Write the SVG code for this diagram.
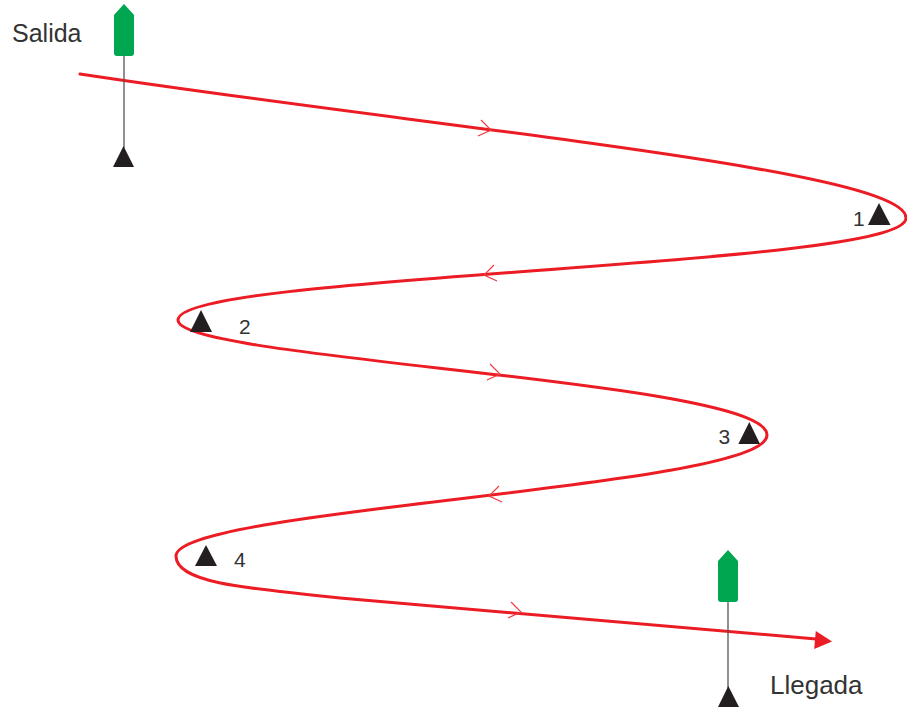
<svg xmlns="http://www.w3.org/2000/svg" width="907" height="710" viewBox="0 0 907 710">
<style>
.route{fill:none;stroke:#ec1c24;stroke-width:3;stroke-linecap:round}
.chev{fill:none;stroke:#ef3b40;stroke-width:1.2}
.mark{fill:#231f20}
.pole{stroke:#555;stroke-width:1.3}
.buoy{fill:#00a650}
.lbl{font-family:"Liberation Sans",Arial,sans-serif;fill:#333}
</style>
<defs>
<path id="chevR" class="chev" d="M-10,-10 L0,0 L-13,6"/>
</defs>
<rect width="907" height="710" fill="#fff"/>
<g id="route">
<path class="route" d="M80,74 C450,130 906,170 906,218 C906,268 178,273 178,320 C178,360 767,380 767,435 C767,488 176,508 176,556 C176,582 240,588 340,598 L816,639"/>
<polygon fill="#ec1c24" points="832,641.5 815.8,631 814.2,649"/>
<use href="#chevR" transform="translate(491,130)"/>
<use href="#chevR" transform="translate(484,275) scale(-1,1)"/>
<use href="#chevR" transform="translate(500,374)"/>
<use href="#chevR" transform="translate(489,496) scale(-1,1)"/>
<use href="#chevR" transform="translate(521,612)"/>
</g>
<g id="salida">
<line class="pole" x1="124" y1="56" x2="124" y2="148"/>
<path class="buoy" d="M124,4 L134,15 L134,53 Q134,56 131,56 L117,56 Q114,56 114,53 L114,15 Z"/>
<polygon class="mark" points="123.5,146 113,167 134,167"/>
<text class="lbl" x="12" y="42" font-size="25">Salida</text>
</g>
<g id="llegada">
<line class="pole" x1="728" y1="600" x2="728" y2="688"/>
<path class="buoy" d="M728,550 L738,561 L738,599 Q738,602 735,602 L721,602 Q718,602 718,599 L718,561 Z"/>
<polygon class="mark" points="728.3,686 718,707 739,707"/>
<text class="lbl" x="770" y="694" font-size="26">Llegada</text>
</g>
<g id="mark1">
<polygon class="mark" points="879,203 868,225 890.5,225"/>
<text class="lbl" x="853" y="226" font-size="21">1</text>
</g>
<g id="mark2">
<polygon class="mark" points="201,310 190,332 212,332"/>
<text class="lbl" x="239" y="334" font-size="21">2</text>
</g>
<g id="mark3">
<polygon class="mark" points="749.3,422 738.3,444 760,444"/>
<text class="lbl" x="718.5" y="443.5" font-size="21">3</text>
</g>
<g id="mark4">
<polygon class="mark" points="206,545 195,566 217,566"/>
<text class="lbl" x="234" y="567" font-size="21">4</text>
</g>
</svg>
